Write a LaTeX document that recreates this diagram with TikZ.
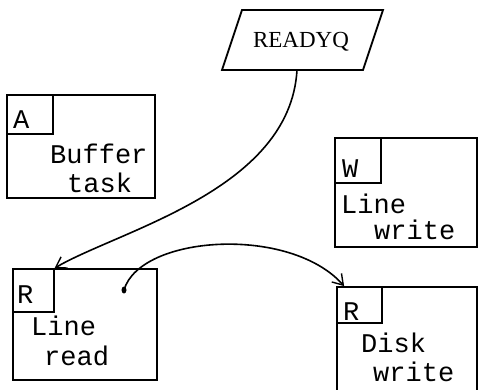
\documentclass[tikz,border=0pt]{standalone}
\usepackage{fontspec}
\setmonofont{Liberation Mono}
\setmainfont{Liberation Serif}
\usetikzlibrary{arrows.meta}
\begin{document}
\begin{tikzpicture}[x=1pt,y=-1pt,
  box/.style={draw, line width=1.8pt, inner sep=0pt, minimum width=#1},
  tag/.style={draw, line width=1.5pt, inner sep=0pt, anchor=north west},
  txt/.style={anchor=base west, inner sep=0pt, font=\ttfamily\fontsize{27}{27}\selectfont},
  tagtxt/.style={anchor=base west, inner sep=0pt, font=\ttfamily\fontsize{27}{27}\selectfont},
  link/.style={line width=1.6pt, -{Straight Barb[length=10pt,width=13pt,line width=1.4pt]}}]
\useasboundingbox (0,0) rectangle (479,389);
\clip (0,0) rectangle (479,389);
% READYQ
\draw[line width=1.8pt] (242,10) -- (383,10) -- (363,70) -- (222,70) -- cycle;
\node[inner sep=0pt, font=\fontsize{23}{23}\selectfont] (Q) at (301,42) {READYQ};
\coordinate (qb) at (297,70);
% Box A
\node[box=148pt, minimum height=103pt] (A) at (81,146.5) {};
\node[tag, minimum width=46pt, minimum height=39pt] (Ain) at (A.north west) {};
\node[tagtxt] (Al) at (13,128) {A};
\node[txt] (A1) at (50,163) {Buffer};
\node[txt] (A2) at (67,192) {task};
% Box W
\node[box=142pt, minimum height=109pt] (W) at (406,192.5) {};
\node[tag, minimum width=46pt, minimum height=45pt] (Win) at (W.north west) {};
\node[tagtxt] (Wl) at (342,177) {W};
\node[txt] (W1) at (341,213) {Line};
\node[txt] (W2) at (374,239) {write};
% Box R1
\node[box=144pt, minimum height=111pt] (R1) at (85,324.5) {};
\node[tag, minimum width=41pt, minimum height=43pt] (R1in) at (R1.north west) {};
\node[tagtxt] (R1l) at (17,303) {R};
\node[txt] (R11) at (31,335) {Line};
\node[txt] (R12) at (44,365) {read};
% Box R2
\node[box=140pt, minimum height=113pt] (R2) at (407,343.5) {};
\node[tag, minimum width=45pt, minimum height=36pt] (R2in) at (R2.north west) {};
\node[tagtxt] (R2l) at (343,320) {R};
\node[txt] (R21) at (361,352) {Disk};
\node[txt] (R22) at (373,381) {write};
% connectors
\coordinate (dot) at (124,290);
\coordinate (r2end) at ([xshift=8pt]R2.north west);
\fill (dot) ellipse (2.5pt and 3.5pt);
\draw[link] (qb) .. controls (290,190) and (120,230) .. (R1in.north east);
\draw[link] (dot) .. controls (140,235) and (290,225) .. (r2end);
\end{tikzpicture}
\end{document}
